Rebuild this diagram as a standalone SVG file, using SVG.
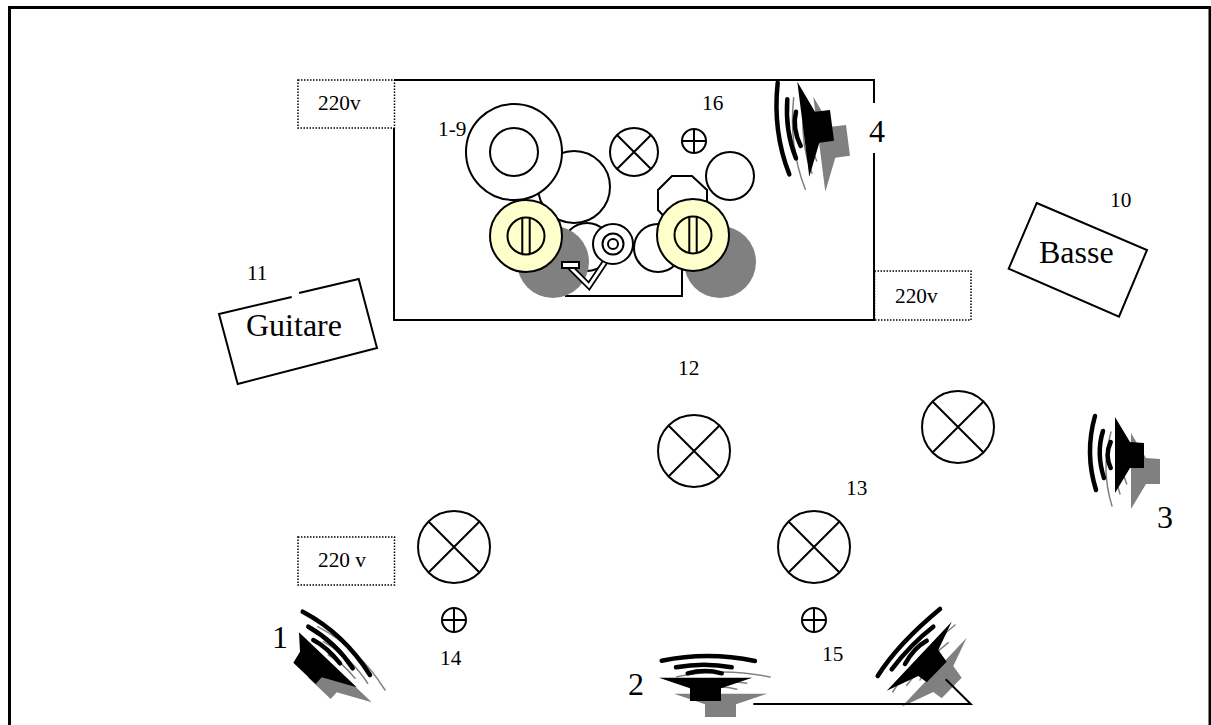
<svg xmlns="http://www.w3.org/2000/svg" width="1211" height="725" viewBox="0 0 1211 725">
<style>
.l{fill:none;stroke:#000;stroke-width:2}
.c{fill:#fff;stroke:#000;stroke-width:2}
.y{fill:#ffc;stroke:#000;stroke-width:2}
.g{fill:#808080;stroke:none}
.d{fill:none;stroke:#000;stroke-width:1.5;stroke-dasharray:1.5 1.5}
.t{font-family:"Liberation Serif","Times New Roman",serif;fill:#000}
.s{font-size:21.3px}.m{font-size:32px}
.cone{fill:#000;stroke:none}.wave{fill:none;stroke:#000;stroke-width:4.500;stroke-linecap:round}
.scone{fill:#808080;stroke:none}.swave{fill:none;stroke:#808080;stroke-width:1.500;stroke-linecap:round}
</style>
<defs>
<g id="xc"><circle r="36" class="c"/><path d="M-25.500-25.500 25.500 25.500M25.500-25.500-25.500 25.500" class="l"/></g>
<g id="xs"><circle r="24" class="c"/><path d="M-17-17 17 17M17-17-17 17" class="l"/></g>
<g id="op"><circle r="12" class="c"/><path d="M-12 0H12M0-12V12" class="l"/></g>
<g id="knob"><circle r="36" class="y"/><circle r="18.500" class="y"/><path d="M-3.700-18V18M3.700-18V18" class="l"/></g>
<polygon id="c1" points="299,632.300 300,651.700 293.300,662.700 315.700,684 321.700,677.300 356.700,687.300"/>
<path id="w1" d="M302.700 611.700Q343.600 633.200 370 675M308.300 626.700Q336 642.500 352.700 668.300M313.300 640Q326.800 647 340 663.300"/>
<polygon id="c2" points="659,677.700 752.300,677.700 721,688.300 721,701 690,701 690,688.300"/>
<path id="w2" d="M661.700 660.700Q708 651.200 755 661M676 667.300Q704 662 731.700 667.300M687.700 673.300Q705 668.700 721.700 673.300"/>
<polygon id="c3" points="1115,417 1130,442 1144,443 1144,468 1130,468 1115,493"/>
<path id="w3" d="M1095 416Q1084.500 453 1096 490M1103 431Q1096 453 1104 478M1110.700 442Q1104.500 455 1110.700 468"/>
<polygon id="c4" points="797.300,81.700 815,111.700 830,110 834,140.700 819.300,142.700 809.300,176.700"/>
<path id="w4" d="M777.700 82.700Q772.500 131.500 789.300 174.300M787.300 99.300Q785 131 796 158.300M796 111.700Q792 128 800.700 146"/>
<polygon id="c5" points="951.700,621.700 938.300,650 946.700,661.700 926.700,682.300 918.300,676 886.700,690.700"/>
<path id="w5" d="M940 609Q897.800 644 877.700 676M933.300 626.700Q910.900 644 891.700 669.300M926.700 640.700Q914 647.600 905 664"/>
</defs>
<rect id="frame" x="9.500" y="7.500" width="1200.500" height="730" fill="#fff" stroke="#000" stroke-width="3"/>
<g id="stage">
<path d="M394 128V320H874V153M874 103V80H394" class="l"/>
<circle cx="574" cy="187" r="36" class="c"/>
<circle cx="514" cy="152" r="48" class="c"/><circle cx="514" cy="152" r="24" class="c"/>
<circle cx="587" cy="247" r="24" class="c"/>
<path d="M565 296H682V270" class="l"/>
<circle cx="658" cy="248" r="24" class="c"/>
<circle cx="553" cy="262" r="36" class="g"/><circle cx="720" cy="262" r="36" class="g"/>
<polygon points="672,176 692,176 707,190 707,225 672,225 658,210 658,190" class="c"/>
<circle cx="730" cy="176" r="24" class="c"/>
<use href="#knob" x="526" y="236"/><use href="#knob" x="693" y="235"/>
<path d="M570 267 589 286 605 262" fill="none" stroke="#000" stroke-width="6.500"/>
<path d="M570 267 589 286 605 262" fill="none" stroke="#fff" stroke-width="3"/>
<rect x="562" y="262" width="17" height="6" class="c"/>
<circle cx="613" cy="244" r="20" class="c"/><circle cx="613" cy="244" r="10.500" class="c"/><circle cx="613" cy="244" r="5" class="c"/>
</g>
<g id="lamp-stage"><use href="#xs" x="634" y="152"/></g>
<g id="mic-16"><use href="#op" x="694" y="141"/></g>
<g id="power-1"><rect x="298" y="80" width="96.500" height="48" class="d"/><text x="318" y="110" class="t s">220v</text></g>
<g id="power-2"><rect x="874.500" y="271" width="96.500" height="49" class="d"/><text x="895" y="303" class="t s">220v</text></g>
<g id="power-3"><rect x="298" y="537" width="96.500" height="48" class="d"/><text x="318" y="567" class="t s">220 v</text></g>
<g id="guitar"><path d="M291.700 297 219 314 237.700 384 377 348 358.700 279 299 293" class="l"/><text x="246" y="336" class="t m">Guitare</text></g>
<g id="bass"><polygon points="1036.700,203 1147,250 1119,316.700 1008.700,268.700" class="l"/><text x="1039" y="263" class="t m">Basse</text></g>
<g id="lamp-12"><use href="#xc" x="694" y="451"/></g>
<g id="lamp-b"><use href="#xc" x="958" y="427"/></g>
<g id="lamp-13"><use href="#xc" x="814" y="547"/></g>
<g id="lamp-14"><use href="#xc" x="454" y="547"/></g>
<g id="mic-14"><use href="#op" x="454" y="620"/></g>
<g id="mic-15"><use href="#op" x="814" y="620"/></g>
<g id="speaker-1"><use href="#w1" class="swave" x="15" y="15"/><use href="#c1" class="scone" x="15" y="15"/><use href="#w1" class="wave"/><use href="#c1" class="cone"/></g>
<g id="speaker-2"><use href="#w2" class="swave" x="15" y="16"/><use href="#c2" class="scone" x="15" y="16"/><use href="#w2" class="wave"/><use href="#c2" class="cone"/></g>
<g id="speaker-3"><use href="#w3" class="swave" x="16" y="16"/><use href="#c3" class="scone" x="16" y="16"/><use href="#w3" class="wave"/><use href="#c3" class="cone"/></g>
<g id="speaker-4"><use href="#w4" class="swave" x="16" y="15"/><use href="#c4" class="scone" x="16" y="15"/><use href="#w4" class="wave"/><use href="#c4" class="cone"/></g>
<g id="speaker-5"><use href="#w5" class="swave" x="15" y="16"/><use href="#c5" class="scone" x="15" y="16"/><use href="#w5" class="wave"/><use href="#c5" class="cone"/></g>
<g id="connectors"><path d="M753.300 704H970.700L945.700 679.300" class="l"/></g>
<g id="labels">
<text x="438" y="136" class="t s">1-9</text>
<text x="702" y="110" class="t s">16</text>
<text x="869" y="142" class="t m">4</text>
<text x="1110" y="207" class="t s">10</text>
<text x="247" y="280" class="t s">11</text>
<text x="678" y="375" class="t s">12</text>
<text x="846" y="495" class="t s">13</text>
<text x="440" y="665" class="t s">14</text>
<text x="822" y="661" class="t s">15</text>
<text x="1157" y="528" class="t m">3</text>
<text x="272" y="648" class="t m">1</text>
<text x="628" y="695" class="t m">2</text>
</g>
</svg>
